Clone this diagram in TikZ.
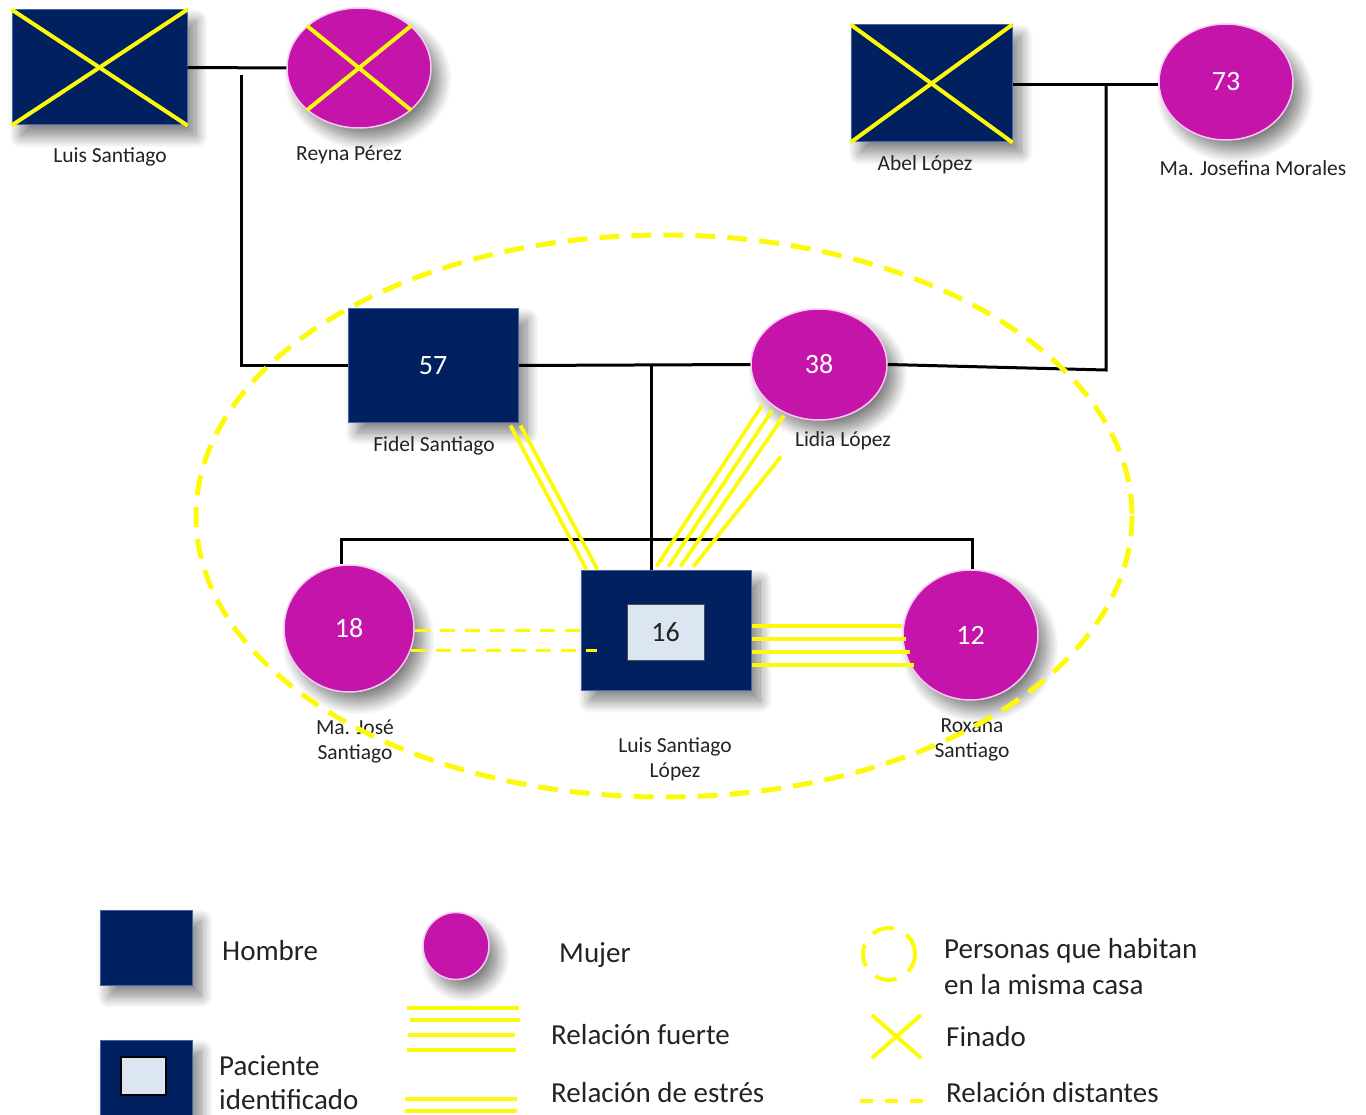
\documentclass[tikz,border=0pt]{standalone}
\usepackage{fontspec}
\setmainfont{Carlito}
\usetikzlibrary{shapes.geometric,shadows.blur}

\definecolor{navy}{RGB}{0,32,96}
\definecolor{navyedge}{RGB}{70,100,170}
\definecolor{mag}{RGB}{196,20,170}
\definecolor{magedge}{RGB}{248,200,244}
\definecolor{ylw}{RGB}{252,250,10}
\definecolor{pib}{RGB}{220,230,242}
\definecolor{txt}{RGB}{35,35,35}

\tikzset{
  shade3d/.style={blur shadow={shadow xshift=9pt, shadow yshift=-11pt,
                  shadow blur radius=12pt, shadow blur steps=14,
                  shadow opacity=50}},
  man/.style={rectangle, fill=navy, draw=navyedge, line width=1pt,
              inner sep=0pt, shade3d, text=white,
              font=\fontsize{28}{32}\selectfont},
  woman/.style={ellipse, fill=mag, draw=magedge, line width=1.5pt,
                inner sep=0pt, shade3d, text=white,
                font=\fontsize{28}{32}\selectfont},
  lbl/.style={text=txt, font=\fontsize{21.5}{25}\selectfont, align=center},
  leg/.style={text=txt, font=\fontsize{29}{35}\selectfont, align=left,
              anchor=west, inner xsep=0pt},
  kin/.style={draw=black, line width=3pt},
  deceased/.style={draw=ylw, line width=4pt},
  rel/.style={draw=ylw, line width=3.8pt},
  dist/.style={rel, dash pattern=on 15pt off 10pt},
  house/.style={draw=ylw, line width=5pt, dash pattern=on 20pt off 12pt}
}

\begin{document}
\begin{tikzpicture}[x=1pt,y=-1pt]
\useasboundingbox (0,0) rectangle (1366,1115);

% ---- grandparents (father's side)
\node[man, minimum width=175pt, minimum height=115pt] (luis) at (99.5,67.5) {};
\node[woman, minimum width=144pt, minimum height=120pt] (reyna) at (359,68) {};
\draw[deceased] (luis.north west) -- (luis.south east);
\draw[deceased] (luis.north east) -- (luis.south west);
\draw[deceased] (reyna.141) -- (reyna.-39);
\draw[deceased] (reyna.39) -- (reyna.-141);
\node[lbl] (luisL) at (110,157) {Luis Santiago};
\node[lbl] (reynaL) at (349,155) {Reyna Pérez};

% ---- grandparents (mother's side)
\node[man, minimum width=161pt, minimum height=117pt] (abel) at (931.5,83.5) {};
\node[woman, minimum width=134pt, minimum height=116pt] (jose) at (1226,82) {73};
\draw[deceased] (abel.north west) -- (abel.south east);
\draw[deceased] (abel.north east) -- (abel.south west);
\node[lbl] (abelL) at (925,165) {Abel López};
\node[lbl] (joseL) at (1253,168) {Ma. Josefina Morales};

% ---- parents
\node[man, minimum width=170pt, minimum height=113pt] (fidel) at (433,365.5) {57};
\node[woman, minimum width=136pt, minimum height=111pt] (lidia) at (819,364.5) {38};
\node[lbl] (fidelL) at (434,446) {Fidel Santiago};
\node[lbl] (lidiaL) at (843,441) {Lidia López};

% ---- children
\node[woman, minimum width=130pt, minimum height=127pt] (majose) at (349,628.5) {18};
\node[man, minimum width=170pt, minimum height=120pt] (pat) at (666,630) {};
\node[rectangle, fill=pib, draw=black!70, line width=1pt,
      minimum width=77pt, minimum height=56pt, inner sep=0pt,
      font=\fontsize{28}{32}\selectfont, text=txt] (patin) at (665.5,632) {16};
\node[woman, minimum width=135pt, minimum height=130pt] (roxana) at (970.5,635) {12};
\node[lbl] (majoseL) at (355,742) {Ma. José\\Santiago};
\node[lbl] (patL) at (675,759) {Luis Santiago\\López};
\node[lbl] (roxanaL) at (972,740) {Roxana\\Santiago};

% ---- kinship lines
\coordinate (gp1d) at (241,75);
\coordinate (gp2) at (1106,85);
\coordinate (par) at (651,366);
\coordinate (sib) at (651,540);
\draw[kin] (luis.east) -- (reyna.west);
\draw[kin] (gp1d) |- (fidel.west);
\draw[kin] (abel.east |- gp2) -- (jose.west |- gp2);
\draw[kin] (gp2) -- (1106,370) -- (lidia.east);
\draw[kin] (fidel.east) -- (lidia.west);
\draw[kin] (par) -- (sib);
\draw[kin] ([xshift=-8pt]majose.north) -- ++(0,-25) -| ([xshift=2pt]roxana.north);
\draw[kin] (sib) -- (sib |- pat.north);

% ---- emotional relationships
% stress: Fidel -- patient
\draw[rel] ([shift={(-8,3)}]fidel.south east) -- ([shift={(6,0)}]pat.north west);
\draw[rel] ([shift={(2,3)}]fidel.south east) -- ([shift={(17,0)}]pat.north west);
% strong: Lidia -- patient
\draw[rel] ([shift={(-57,41)}]lidia.center) -- ([shift={(76,-3)}]pat.north west);
\draw[rel] ([shift={(-47,46)}]lidia.center) -- ([shift={(88,-3)}]pat.north west);
\draw[rel] ([shift={(-35,51)}]lidia.center) -- ([shift={(100,-3)}]pat.north west);
\draw[rel] ([shift={(-38,92)}]lidia.center) -- ([shift={(113,-3)}]pat.north west);
% strong: patient -- Roxana
\foreach \d/\e in {-4/0,9/4,22/8,35/12}{
  \path (pat.east) ++(0,\d) coordinate (s);
  \draw[rel] (s) -- ([xshift=\e pt]s -| roxana.west);
}
% distant: Ma. José -- patient
\path (majose.east) ++(0,2) coordinate (d1);
\path (majose.east) ++(-4,22) coordinate (d2);
\draw[dist] (d1) -- (d1 -| pat.west);
\draw[dist] (d2) -- (d2 -| pat.west) -- ++(16,0);

% ---- household
\draw[house] (664,516) ellipse [x radius=468, y radius=281];

% ---- legend
\node[man, minimum width=92pt, minimum height=75pt] (lhombre) at (146,947.5) {};
\node[leg] (lhombreT) at (222,951) {Hombre};
\node[man, minimum width=92pt, minimum height=75pt] (lpac) at (146,1077.5) {};
\node[rectangle, fill=pib, draw=black, line width=1.5pt, minimum width=45pt,
      minimum height=38pt, inner sep=0pt] (lpacin) at (143.5,1076) {};
\node[leg, font=\fontsize{29}{34}\selectfont] (lpacT) at (219,1083) {Paciente\\identificado};
\node[woman, minimum width=66pt, minimum height=67pt] (lmujer) at (456,946) {};
\node[leg] (lmujerT) at (559,955) {Mujer};

\draw[rel] (407,1008) -- (519,1008);
\draw[rel] (410,1020) -- (520,1020);
\draw[rel] (408,1035) -- (515,1035);
\draw[rel] (407,1050) -- (516,1050);
\node[leg] (lfuerte) at (551,1035) {Relación fuerte};
\draw[rel] (405,1099) -- (517,1099);
\draw[rel] (405,1111) -- (517,1111);
\node[leg] (lestres) at (551,1093) {Relación de estrés};

\node[circle, draw=ylw, line width=4pt, dash pattern=on 22pt off 14pt,
      minimum size=52pt, inner sep=0pt] (lcasa) at (889,954) {};
\node[leg, font=\fontsize{29}{36}\selectfont] (lcasaT) at (944,967) {Personas que habitan\\en la misma casa};
\draw[deceased] (872,1015) -- (921,1058);
\draw[deceased] (921,1015) -- (872,1058);
\node[leg] (lfinado) at (946,1037) {Finado};
\draw[rel, dash pattern=on 13pt off 12pt] (860,1101) -- (925,1101);
\node[leg] (ldist) at (946,1093) {Relación distantes};
\end{tikzpicture}
\end{document}
